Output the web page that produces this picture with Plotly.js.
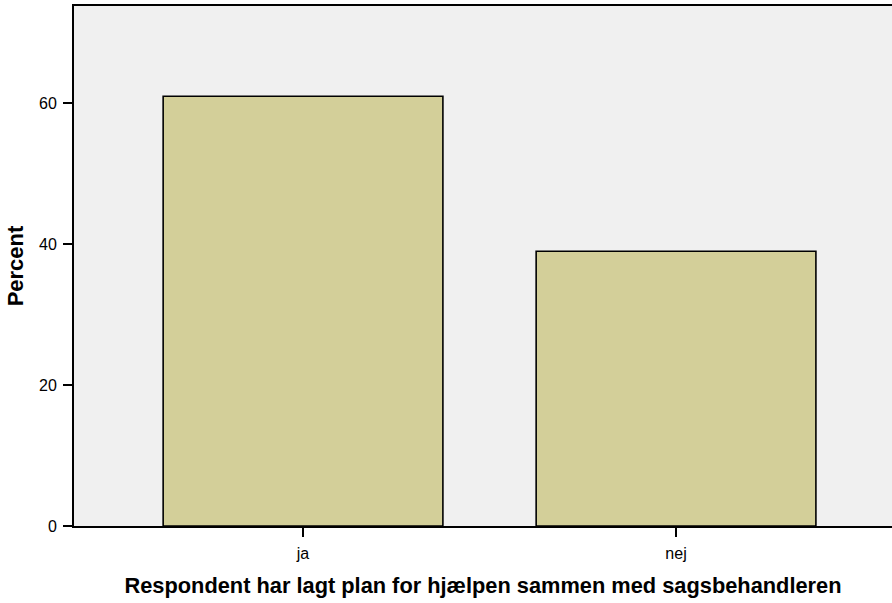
<!DOCTYPE html>
<html>
<head>
<meta charset="utf-8">
<script src="https://cdn.plot.ly/plotly-3.0.1.min.js"></script>
<style>html,body{margin:0;padding:0;background:#fff}#chart{width:892px;height:603px}</style>
</head>
<body>
<div id="chart"></div>
<script>
const categories = ["ja", "nej"];
const percentValues = [61.0, 39.0];
const yTickValues = [0, 20, 40, 60];
const yTickLabels = ["0", "20", "40", "60"];
const xTitle = "Respondent har lagt plan for hjælpen sammen med sagsbehandleren";
const yTitle = "Percent";

const trace = {
  type: "bar",
  x: categories,
  y: percentValues,
  width: 0.75,
  marker: {color: "#d3cf99", line: {color: "#000", width: 1.6}},
  hoverinfo: "x+y"
};

const layout = {
  width: 892, height: 603,
  margin: {l: 74, r: 0, t: 6, b: 77},
  paper_bgcolor: "#ffffff",
  plot_bgcolor: "#f0f0f0",
  font: {family: "Liberation Sans, Arial, sans-serif", color: "#000"},
  showlegend: false,
  xaxis: {
    type: "category",
    range: [-0.614, 1.579],
    showline: true, mirror: true, linecolor: "#000", linewidth: 2,
    ticks: "outside", ticklen: 9, tickwidth: 2, tickcolor: "#000",
    tickfont: {size: 16}, ticklabelstandoff: 3,
    showgrid: false, zeroline: false,
    title: {text: xTitle, font: {size: 21.8, weight: "bold"}, standoff: 17}
  },
  yaxis: {
    range: [0, 73.8],
    tickvals: yTickValues, ticktext: yTickLabels,
    showline: true, linecolor: "#000", linewidth: 2,
    ticks: "outside", ticklen: 9, tickwidth: 2, tickcolor: "#000",
    tickfont: {size: 16}, ticklabelstandoff: 3,
    showgrid: false, zeroline: false,
    title: {text: yTitle, font: {size: 22, weight: "bold"}, standoff: 9}
  }
};

Plotly.newPlot("chart", [trace], layout, {displayModeBar: false, staticPlot: true});
</script>
</body>
</html>
